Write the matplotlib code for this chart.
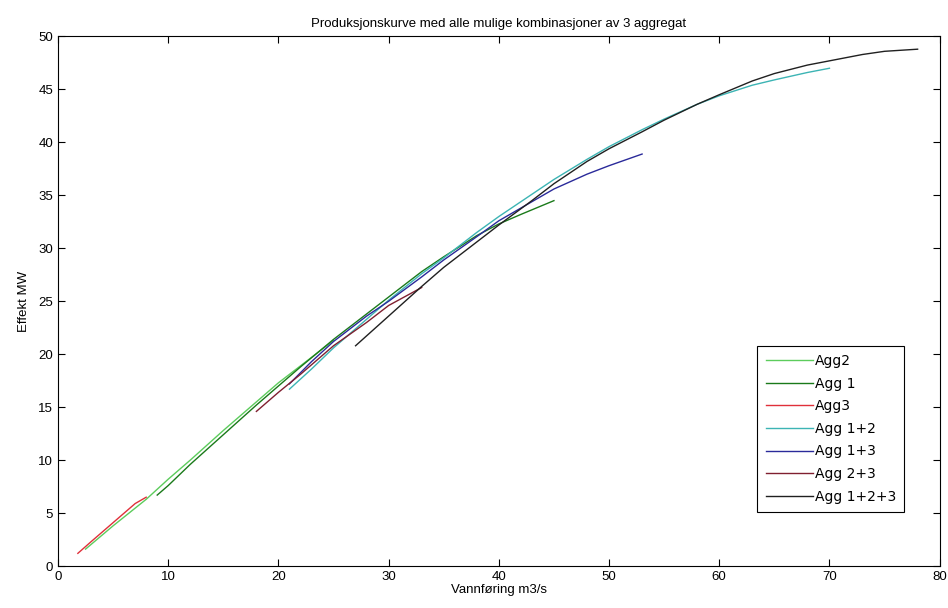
import matplotlib
matplotlib.use("Agg")
import matplotlib.pyplot as plt

plt.rcParams['font.family'] = ['Liberation Sans', 'DejaVu Sans']

# Agg2
x_agg2 = [2.5, 5, 8, 10, 12, 15, 18, 20, 22, 25]
y_agg2 = [1.6, 3.8, 6.3, 8.2, 10.0, 12.8, 15.5, 17.3, 18.9, 21.3]
# Agg 1
x_agg1 = [9, 10, 12, 15, 18, 20, 22, 25, 28, 30, 33, 35, 38, 40, 42, 45]
y_agg1 = [6.7, 7.6, 9.6, 12.4, 15.2, 17.0, 18.8, 21.4, 23.8, 25.4, 27.8, 29.2, 31.2, 32.3, 33.2, 34.5]
# Agg3
x_agg3 = [1.8, 3, 4, 5, 6, 7, 8]
y_agg3 = [1.2, 2.3, 3.2, 4.1, 5.0, 5.9, 6.5]
# Agg 1+2
x_agg12 = [21, 23, 25, 28, 30, 33, 35, 38, 40, 43, 45, 48, 50, 53, 55, 58, 60, 63, 65, 68, 70]
y_agg12 = [16.7, 18.6, 20.6, 23.3, 25.1, 27.6, 29.1, 31.5, 33.0, 35.1, 36.5, 38.4, 39.6, 41.2, 42.2,
           43.6, 44.4, 45.4, 45.9, 46.6, 47.0]
# Agg 1+3
x_agg13 = [21, 23, 25, 28, 30, 33, 35, 38, 40, 43, 45, 48, 50, 53]
y_agg13 = [17.2, 19.3, 21.2, 23.6, 25.0, 27.3, 28.9, 31.1, 32.6, 34.4, 35.6, 37.0, 37.8, 38.9]
# Agg 2+3
x_agg23 = [18, 20, 22, 25, 28, 30, 33]
y_agg23 = [14.6, 16.4, 18.1, 20.8, 23.0, 24.6, 26.3]
# Agg 1+2+3
x_agg123 = [27, 30, 33, 35, 38, 40, 43, 45, 48, 50, 53, 55, 58, 60, 63, 65, 68, 70, 73, 75, 78]
y_agg123 = [20.8, 23.6, 26.4, 28.2, 30.6, 32.2, 34.5, 36.1, 38.2, 39.4, 41.0, 42.1, 43.6, 44.5,
            45.8, 46.5, 47.3, 47.7, 48.3, 48.6, 48.8]

fig = plt.figure(figsize=(9.48, 6.08), dpi=100)
ax = fig.add_axes([0.0612, 0.069, 0.930, 0.871])

ax.plot(x_agg2, y_agg2, color='#5ccc5c', lw=1, label='Agg2')
ax.plot(x_agg1, y_agg1, color='#1a7a1a', lw=1, label='Agg 1')
ax.plot(x_agg3, y_agg3, color='#e0303a', lw=1, label='Agg3')
ax.plot(x_agg12, y_agg12, color='#3cb4b4', lw=1, label='Agg 1+2')
ax.plot(x_agg13, y_agg13, color='#2a2a9a', lw=1, label='Agg 1+3')
ax.plot(x_agg23, y_agg23, color='#802030', lw=1, label='Agg 2+3')
ax.plot(x_agg123, y_agg123, color='#202020', lw=1, label='Agg 1+2+3')

ax.set_xlim(0, 80)
ax.set_ylim(0, 50)
ax.set_xticks(range(0, 81, 10))
ax.set_yticks(range(0, 51, 5))
ax.tick_params(direction='in', top=True, right=True, labelsize=9.5, length=5)
for s in ax.spines.values():
    s.set_linewidth(0.8)

ax.set_title("Produksjonskurve med alle mulige kombinasjoner av 3 aggregat", fontsize=9.5, pad=7)
ax.set_xlabel("Vannføring m3/s", fontsize=9.5, labelpad=1)
ax.set_ylabel("Effekt MW", fontsize=9.5, labelpad=6)

leg = ax.legend(loc='lower right', bbox_to_anchor=(0.96, 0.102), fancybox=False,
                edgecolor='black', handlelength=3.4, handletextpad=0.15,
                labelspacing=0.62, borderpad=0.6, borderaxespad=0, framealpha=1,
                prop={'family': 'DejaVu Sans', 'size': 10})
leg.get_frame().set_linewidth(0.8)

plt.savefig("out.png")
plt.close()
